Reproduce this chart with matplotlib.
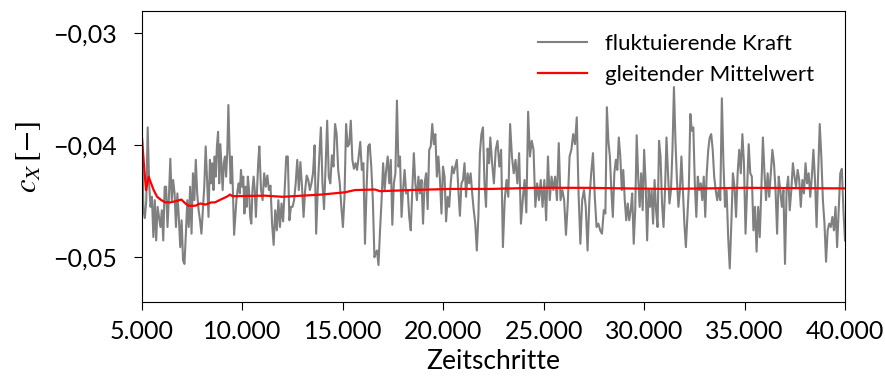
import numpy as np
import matplotlib
matplotlib.use("Agg")
from matplotlib import pyplot as plt
from matplotlib.ticker import FuncFormatter

# Kraftbeiwert c_X in 1e-3, abschnittsweise: (erster Zeitschritt, letzter Zeitschritt, Werte)
kraft_a = (5000, 8450, [
    -39.4, -45.8, -46.5, -44.9, -38.4, -43.4, -45.5, -44.6, -48.2, -44.9,
    -48.5, -45.5, -46.4, -47.3, -45.8, -48.5, -43.7, -43.7, -47.3, -44.6,
    -41.2, -44.9, -43.1, -44.3, -47.3, -44.3, -46.4, -49.1, -46.7, -50.3,
    -50.6, -47.9, -44.9, -47.3, -43.7, -47.9, -42.5, -44.9, -41.3, -44.3,
    -45.8, -46.7, -47.9, -45.8, -43.7, -40.1, -43.1, -46.4, -41.3, -43.4,
])
kraft_b = (8500, 10840, [
    -41.6, -44.0, -41.0, -42.8, -40.1, -38.8, -43.4, -39.9, -41.9, -44.0,
    -41.6, -41.0, -42.8, -40.7, -36.4, -40.4, -43.4, -41.0, -44.3, -48.0,
    -46.4, -44.9, -44.0, -43.4, -44.3, -42.2, -43.7, -42.8, -46.1, -43.7,
    -45.5, -42.8, -44.0, -46.4, -47.0, -44.0, -42.8, -44.0, -46.4, -44.0,
    -41.6, -40.1,
])
kraft_c = (10925, 16570, [
    -44.0, -44.9, -42.5, -43.7, -42.7, -44.0, -43.6, -47.0, -48.9, -45.8,
    -47.6, -44.9, -47.3, -45.2, -46.8, -44.0, -41.0, -41.0, -46.7, -45.5,
    -45.5, -44.9, -43.4, -41.3, -44.0, -41.5, -43.7, -46.4, -44.0, -42.7,
    -43.1, -44.0, -43.4, -42.5, -40.0, -47.9, -44.0, -41.0, -38.4, -43.4,
    -45.7, -41.9, -37.8, -42.8, -43.4, -40.9, -41.9, -38.1, -39.0, -42.2,
    -43.4, -45.5, -47.3, -44.6, -38.1, -40.1, -39.9, -37.8, -41.3, -42.1,
    -41.6, -42.2, -41.0, -39.7, -42.2, -41.6, -48.8, -44.0, -40.1, -39.9,
    -41.9, -44.9, -50.0,
])
kraft_d = (16620, 22280, [
    -49.7, -49.4, -50.7, -47.6, -44.9, -41.6, -44.0, -42.2, -41.0, -43.4,
    -41.3, -47.1, -43.4, -42.5, -36.0, -41.9, -41.0, -46.4, -44.0, -42.2,
    -44.3, -44.0, -46.4, -47.6, -44.0, -40.7, -43.4, -44.9, -42.8, -44.3,
    -43.1, -47.0, -43.4, -42.5, -45.7, -40.4, -40.1, -38.1, -39.9, -39.0,
    -42.8, -41.0, -43.1, -46.1, -41.9, -42.8, -46.8, -44.6, -45.5, -43.4,
    -41.9, -42.5, -41.9, -41.3, -44.0, -46.3, -43.4, -43.1, -41.6, -44.6,
    -42.5, -43.4, -42.5, -44.3, -45.8, -47.0, -49.4, -46.4, -40.7, -39.0,
    -38.4, -43.4, -45.5, -40.3, -41.6,
])
kraft_e = (22340, 27990, [
    -39.3, -41.6, -43.4, -40.4, -39.6, -41.9, -40.4, -49.1, -44.9, -43.1,
    -44.6, -38.1, -41.0, -42.5, -41.3, -43.4, -40.7, -47.0, -44.9, -43.1,
    -46.0, -37.0, -41.0, -39.6, -40.4, -45.5, -43.4, -44.9, -43.1, -45.5,
    -43.1, -46.7, -41.0, -44.9, -42.8, -44.0, -42.8, -44.9, -39.8, -44.9,
    -44.0, -44.9, -48.0, -45.2, -41.0, -40.4, -39.0, -39.9, -37.5, -44.3,
    -48.8, -44.9, -44.0, -45.5, -49.4, -44.9, -42.5, -40.7, -44.6, -47.3,
    -47.0, -47.6, -47.9, -45.8,
])
kraft_f = (28070, 33710, [
    -46.1, -36.6, -39.6, -41.0, -44.0, -46.4, -42.5, -41.3, -42.2, -39.3,
    -41.0, -44.0, -42.2, -44.9, -46.7, -45.2, -46.7, -45.8, -44.3, -48.8,
    -45.8, -39.1, -42.8, -45.5, -42.5, -45.8, -40.4, -43.4, -48.5, -44.0,
    -45.5, -44.0, -47.0, -43.1, -45.8, -47.3, -39.6, -41.0, -45.2, -47.3,
    -44.0, -39.3, -42.5, -45.2, -44.0, -40.4, -34.8, -39.6, -43.1, -45.5,
    -44.0, -41.0, -44.0, -47.0, -49.1, -46.4, -43.7, -37.2, -38.7, -38.4,
    -43.4, -46.4, -42.8, -44.0, -43.4, -44.9, -42.8, -46.4, -42.5, -40.4,
    -39.3, -39.0, -40.4, -42.8, -44.0, -44.9, -44.0,
])
kraft_g = (33790, 40000, [
    -44.9, -35.8, -41.6, -45.5, -44.0, -48.2, -51.0, -47.0, -42.5, -43.7,
    -46.4, -42.5, -40.4, -42.5, -39.0, -41.6, -47.9, -44.0, -39.9, -42.5,
    -42.8, -47.6, -45.5, -49.5, -45.5, -48.2, -44.0, -39.3, -42.5, -44.9,
    -42.5, -44.6, -42.5, -40.4, -41.6, -44.0, -47.9, -42.8, -44.0, -45.5,
    -44.0, -50.6, -44.0, -42.8, -45.8, -44.0, -41.6, -42.8, -43.7, -42.2,
    -43.1, -45.5, -43.1, -44.3, -41.6, -43.4, -42.5, -44.6, -42.8, -40.4,
    -43.1, -47.3, -42.5, -38.1, -41.0, -44.9, -47.0, -50.4, -47.6, -47.0,
    -47.3, -46.4, -47.6, -45.5, -49.1, -45.8, -42.5, -42.1, -45.8, -48.5,
])

# gleitender Mittelwert (in 1e-3)
mittel_steps = [5000, 5100, 5200, 5265, 5330, 5430, 5580, 5750, 5960, 6160,
                6410, 6660, 6960, 7160, 7320, 7660, 7900, 8150, 8450, 8630,
                8970, 9215, 9380, 9500, 11125, 12000, 13950, 15100, 15600,
                16600, 16850, 18340, 20335, 22330, 24570, 27060, 31140,
                35000, 40000]
mittel_milli = [-39.4, -41.9, -44.0, -43.4, -42.8, -43.3, -44.0, -44.6, -44.9, -45.1,
                -45.1, -45.0, -44.85, -45.2, -45.4, -45.4, -45.2, -45.3, -45.1, -45.1,
                -44.8, -44.6, -44.4, -44.55, -44.5, -44.6, -44.4, -44.2, -44.0,
                -43.95, -44.1, -44.0, -43.9, -43.9, -43.8, -43.8, -43.9,
                -43.8, -43.85]

x_ticks = [5000, 10000, 15000, 20000, 25000, 30000, 35000, 40000]
y_ticks = [-0.05, -0.04, -0.03]

steps, cx = [], []
for start, end, werte in (kraft_a, kraft_b, kraft_c, kraft_d, kraft_e, kraft_f, kraft_g):
    steps.append(np.linspace(start, end, len(werte)))
    cx.append(np.array(werte) * 1e-3)
steps = np.concatenate(steps)
cx = np.concatenate(cx)
cx_mean = np.array(mittel_milli) * 1e-3

plt.rcParams['font.family'] = ['Lato', 'DejaVu Sans']
plt.rcParams['mathtext.fontset'] = 'stix'

fig = plt.figure(figsize=(8.85, 3.83), dpi=100)
ax = fig.add_axes([0.1605, 0.2115, 0.7943, 0.7598])

ax.plot(steps, cx, color='gray', lw=1.5, label='fluktuierende Kraft')
ax.plot(mittel_steps, cx_mean, color='red', lw=1.6, label='gleitender Mittelwert')

ax.set_xlim(5000, 40000)
ax.set_ylim(-0.054, -0.028)
ax.set_xticks(x_ticks)
ax.set_yticks(y_ticks)
ax.xaxis.set_major_formatter(FuncFormatter(lambda v, p: f'{int(v):,}'.replace(',', '.')))
ax.yaxis.set_major_formatter(FuncFormatter(lambda v, p: f'{v:.2f}'.replace('.', ',').replace('-', '\u2212')))
ax.tick_params(labelsize=18, direction='out', length=6)
ax.tick_params(axis='y', pad=12)
ax.tick_params(axis='x', pad=7)

ax.set_xlabel('Zeitschritte', fontsize=19, labelpad=4)
ax.set_ylabel(r'$c_X\,[-]$', fontsize=22, labelpad=7)

ax.legend(loc='upper right', bbox_to_anchor=(0.997, 1.02), frameon=False,
          fontsize=16, handlelength=2.2, borderaxespad=0.9)

fig.savefig('out.png', dpi=100)
